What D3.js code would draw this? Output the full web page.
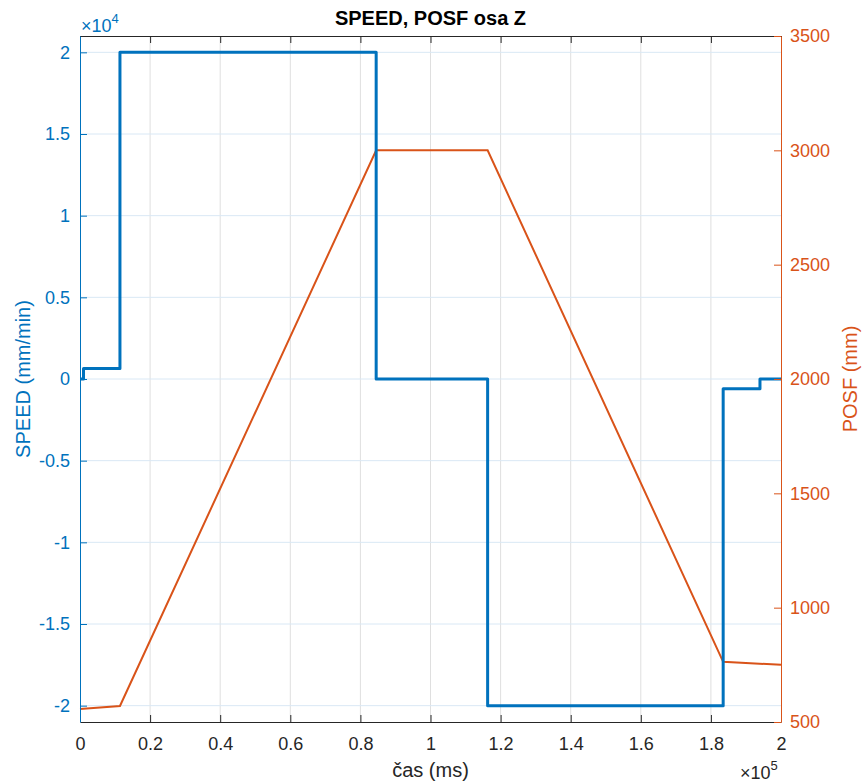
<!DOCTYPE html>
<html><head><meta charset="utf-8">
<script src="https://cdn.jsdelivr.net/npm/d3@7/dist/d3.min.js"></script>
<style>body{margin:0;background:#fff}svg{display:block;font-family:"Liberation Sans",Arial,sans-serif}</style>
</head><body><svg id="c" width="863" height="783"></svg>
<script>
// data (time in ms)
const speedTime  = [0, 1000, 11400, 84500, 116300, 183500, 194000, 200000];
const speedValue = [0, 650, 20000, 0, -20000, -600, 0, 0];
const posfTime   = [0, 11400, 84500, 116300, 183500, 200000];
const posfValue  = [557, 570, 3000, 3000, 763, 750];
const xTicks = [0, 20000, 40000, 60000, 80000, 100000, 120000, 140000, 160000, 180000, 200000];
const leftTicks = [-20000, -15000, -10000, -5000, 0, 5000, 10000, 15000, 20000];
const rightTicks = [500, 1000, 1500, 2000, 2500, 3000, 3500];

const blue = "#0072BD", orange = "#D95319", dark = "#262626";
const m = {l:80, r:82, t:36, b:61};
const W = 863, H = 783;
const svg = d3.select("#c");
const x = d3.scaleLinear().domain([0, 200000]).range([m.l, W - m.r]);
const yL = d3.scaleLinear().domain([-21000, 21000]).range([H - m.b, m.t]);
const yR = d3.scaleLinear().domain([500, 3500]).range([H - m.b, m.t]);
const fs = 18, lfs = 20;
const fmt = v => d3.format("~g")(v).replace("−", "-");

// grid
svg.append("g").selectAll("line").data(xTicks.slice(1,-1)).join("line")
  .attr("x1", d => x(d)).attr("x2", d => x(d)).attr("y1", m.t).attr("y2", H - m.b)
  .attr("stroke", "#dfdfdf").attr("stroke-width", 1);
svg.append("g").selectAll("line").data(leftTicks).join("line")
  .attr("x1", m.l).attr("x2", W - m.r).attr("y1", d => yL(d)).attr("y2", d => yL(d))
  .attr("stroke", "#d9e8f5").attr("stroke-width", 1);

// lines
const posf = posfTime.map((t, i) => [t, posfValue[i]]);
const speed = speedTime.map((t, i) => [t, speedValue[i]]);
svg.append("path").datum(posf)
  .attr("d", d3.line().x(d => x(d[0])).y(d => yR(d[1])))
  .attr("fill", "none").attr("stroke", orange).attr("stroke-width", 2);
svg.append("path").datum(speed)
  .attr("d", d3.line().curve(d3.curveStepAfter).x(d => x(d[0])).y(d => yL(d[1])))
  .attr("fill", "none").attr("stroke", blue).attr("stroke-width", 3).attr("stroke-linejoin", "round");

function styleText(g, color) {
  g.selectAll("text").attr("fill", color).style("font-size", fs + "px")
    .style("font-family", "Liberation Sans, Arial, sans-serif");
}

// axes
const ax = svg.append("g").attr("transform", `translate(0,${H - m.b})`)
  .call(d3.axisBottom(x).tickValues(xTicks).tickSizeInner(-7).tickSizeOuter(0).tickPadding(15).tickFormat(d => fmt(d / 1e5)));
ax.select(".domain").attr("stroke", dark);
ax.selectAll("line").attr("stroke", dark);
styleText(ax, dark);

const axt = svg.append("g").attr("transform", `translate(0,${m.t})`)
  .call(d3.axisTop(x).tickValues(xTicks).tickSizeInner(-7).tickSizeOuter(0).tickFormat(""));
axt.select(".domain").attr("stroke", dark);
axt.selectAll("line").attr("stroke", dark);

const al = svg.append("g").attr("transform", `translate(${m.l},0)`)
  .call(d3.axisLeft(yL).tickValues(leftTicks).tickSizeInner(-7).tickSizeOuter(0).tickPadding(10).tickFormat(d => fmt(d / 1e4)));
al.select(".domain").attr("stroke", blue);
al.selectAll("line").attr("stroke", blue);
styleText(al, blue);

const ar = svg.append("g").attr("transform", `translate(${W - m.r},0)`)
  .call(d3.axisRight(yR).tickValues(rightTicks).tickSizeInner(-7).tickSizeOuter(0).tickPadding(9).tickFormat(d3.format("d")));
ar.select(".domain").attr("stroke", orange);
ar.selectAll("line").attr("stroke", orange);
styleText(ar, orange);

// title and labels
svg.append("text").attr("x", (m.l + W - m.r) / 2).attr("y", 25).attr("text-anchor", "middle")
  .attr("font-weight", "bold").attr("font-size", 20).attr("fill", "#000").text("SPEED, POSF osa Z");
svg.append("text").attr("x", (m.l + W - m.r) / 2).attr("y", 777).attr("text-anchor", "middle")
  .attr("font-size", lfs).attr("fill", dark).text("čas (ms)");
svg.append("text").attr("transform", `translate(30,379) rotate(-90)`).attr("text-anchor", "middle")
  .attr("font-size", lfs).attr("fill", blue).text("SPEED (mm/min)");
svg.append("text").attr("transform", `translate(857,379) rotate(-90)`).attr("text-anchor", "middle")
  .attr("font-size", lfs).attr("fill", orange).text("POSF (mm)");

// exponent labels
const e1 = svg.append("text").attr("x", 81).attr("y", 32).attr("font-size", fs).attr("fill", blue);
e1.append("tspan").text("×10");
e1.append("tspan").attr("dy", -9).attr("font-size", 13).text("4");
const e2 = svg.append("text").attr("x", 740).attr("y", 779).attr("font-size", fs).attr("fill", dark);
e2.append("tspan").text("×10");
e2.append("tspan").attr("dy", -9).attr("font-size", 13).text("5");
</script></body></html>
